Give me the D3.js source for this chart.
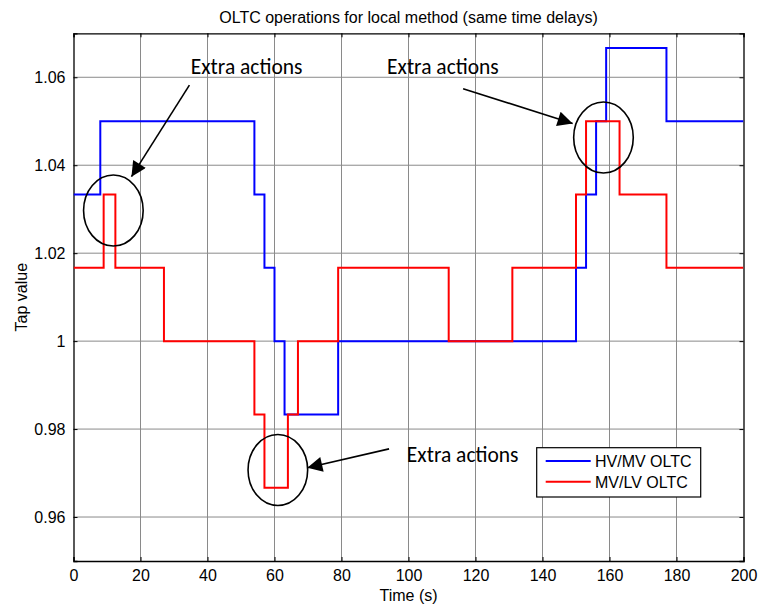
<!DOCTYPE html>
<html><head><meta charset="utf-8">
<script src="https://cdn.jsdelivr.net/npm/d3@7"></script>
<style>body{margin:0;background:#fff}svg{display:block}</style>
</head><body>
<svg id="c" width="759" height="605"></svg>
<script>
const title = "OLTC operations for local method (same time delays)";
const xLabel = "Time (s)";
const yLabel = "Tap value";
const xTicks = [0,20,40,60,80,100,120,140,160,180,200];
const yTicks = [0.96,0.98,1.0,1.02,1.04,1.06];
const yTickLabels = ["0.96","0.98","1","1.02","1.04","1.06"];
const seriesNames = ["HV/MV OLTC","MV/LV OLTC"];
const seriesColors = ["#0000ff","#ff0000"];
// step changes: [time, tap value]
const hvmvT = [0,8,54,57,60,63,79,150,153,156,159,177,200];
const hvmvV = [31/30,21/20,31/30,61/60,1,59/60,1,61/60,31/30,21/20,16/15,21/20,21/20];
const mvlvT = [0,9,12.5,27,54,57,64,67,79,112,131,150,153,163,177,200];
const mvlvV = [61/60,31/30,61/60,1,59/60,29/30,59/60,1,61/60,1,61/60,31/30,21/20,31/30,61/60,61/60];
const annText = "Extra actions";
// annotations: text position, ellipse (data units), arrow from -> to
const annTextPos = [[35,1.0607],[93.6,1.0607],[99.5,0.9725]];
const annEllipse = [[11.9,1.0297],[158.2,1.0463],[61,0.9707]];
const annArrowFrom = [[34.6,1.0582],[116.3,1.0574],[94.2,0.9755]];
const annArrowTo = [[17.3,1.0374],[149,1.0495],[69.8,0.9712]];

const svg = d3.select("#c");
const m = {l:73.5, r:743.5, t:33.3, b:561};
const x = d3.scaleLinear().domain([0,200]).range([m.l,m.r]);
const y = d3.scaleLinear().domain([0.95,1.07]).range([m.b,m.t]);
const font = "'Liberation Sans', Arial, sans-serif";

// grid
const g = svg.append("g");
g.selectAll(".gx").data(xTicks.slice(1,-1)).enter().append("line")
 .attr("x1",d=>x(d)).attr("x2",d=>x(d)).attr("y1",m.t).attr("y2",m.b)
 .attr("stroke","#8a8a8a").attr("stroke-width",1);
g.selectAll(".gy").data(yTicks).enter().append("line")
 .attr("y1",d=>y(d)).attr("y2",d=>y(d)).attr("x1",m.l).attr("x2",m.r)
 .attr("stroke","#8a8a8a").attr("stroke-width",1);

// axes
const xa = svg.append("g").attr("transform",`translate(0,${m.b})`)
 .call(d3.axisBottom(x).tickValues(xTicks).tickSize(-4).tickPadding(9).tickFormat(d3.format("d")));
const xt = svg.append("g").attr("transform",`translate(0,${m.t})`)
 .call(d3.axisTop(x).tickValues(xTicks).tickSize(-4).tickFormat(""));
const ya = svg.append("g").attr("transform",`translate(${m.l},0)`)
 .call(d3.axisLeft(y).tickValues(yTicks).tickSize(-4).tickPadding(8).tickFormat((d,i)=>yTickLabels[i]));
const yr = svg.append("g").attr("transform",`translate(${m.r},0)`)
 .call(d3.axisRight(y).tickValues(yTicks).tickSize(-4).tickFormat(""));
[xa,xt,ya,yr].forEach(a=>{
  a.selectAll("path").attr("stroke","#000").attr("stroke-width",1.3);
  a.selectAll("line").attr("stroke","#000");
  a.selectAll("text").attr("font-family",font).attr("font-size",16).attr("fill","#000");
});

// series
const line = d3.line().x(d=>x(d[0])).y(d=>y(d[1])).curve(d3.curveStepAfter);
svg.append("clipPath").attr("id","cl").append("rect")
 .attr("x",m.l).attr("y",m.t).attr("width",m.r-m.l).attr("height",m.b-m.t);
[[hvmvT,hvmvV],[mvlvT,mvlvV]].forEach((s,i)=>{
  svg.append("path").datum(s[0].map((t,j)=>[t,s[1][j]]))
   .attr("d",line).attr("fill","none").attr("stroke",seriesColors[i]).attr("stroke-width",2)
   .attr("clip-path","url(#cl)");
});

// annotations
const defs = svg.append("defs");
defs.append("marker").attr("id","ah").attr("viewBox","0 0 10 10").attr("refX",10).attr("refY",5)
 .attr("markerWidth",22).attr("markerHeight",15).attr("markerUnits","userSpaceOnUse").attr("orient","auto")
 .append("path").attr("d","M0,0 L10,5 L0,10 z").attr("fill","#000");
annTextPos.forEach((p,i)=>{
  svg.append("text").attr("x",x(p[0])).attr("y",y(p[1])).text(annText)
   .attr("font-family","Carlito, Lato, 'Open Sans', sans-serif").attr("font-size",21.5).attr("fill","#000");
  const e = annEllipse[i];
  svg.append("ellipse").attr("cx",x(e[0])).attr("cy",y(e[1])).attr("rx",29.8).attr("ry",35.5)
   .attr("fill","none").attr("stroke","#000").attr("stroke-width",1.6);
  svg.append("line").attr("x1",x(annArrowFrom[i][0])).attr("y1",y(annArrowFrom[i][1]))
   .attr("x2",x(annArrowTo[i][0])).attr("y2",y(annArrowTo[i][1]))
   .attr("stroke","#000").attr("stroke-width",1.6).attr("marker-end","url(#ah)");
});

// legend
const lg = svg.append("g");
lg.append("rect").attr("x",536.7).attr("y",447.7).attr("width",164).attr("height",49.3)
 .attr("fill","#fff").attr("stroke","#000").attr("stroke-width",1.2);
seriesNames.forEach((n,i)=>{
  const yy = 461 + i*20.7;
  lg.append("line").attr("x1",545.7).attr("x2",590.7).attr("y1",yy).attr("y2",yy)
   .attr("stroke",seriesColors[i]).attr("stroke-width",2);
  lg.append("text").attr("x",595).attr("y",yy+6).text(n)
   .attr("font-family",font).attr("font-size",16).attr("fill","#000");
});

// titles
svg.append("text").attr("x",(m.l+m.r)/2).attr("y",23.3).attr("text-anchor","middle").text(title)
 .attr("font-family",font).attr("font-size",16).attr("fill","#000");
svg.append("text").attr("x",(m.l+m.r)/2).attr("y",600.5).attr("text-anchor","middle").text(xLabel)
 .attr("font-family",font).attr("font-size",16).attr("fill","#000");
svg.append("text").attr("transform",`translate(27,${(m.t+m.b)/2}) rotate(-90)`).attr("text-anchor","middle").text(yLabel)
 .attr("font-family",font).attr("font-size",16).attr("fill","#000");
</script>
</body></html>
